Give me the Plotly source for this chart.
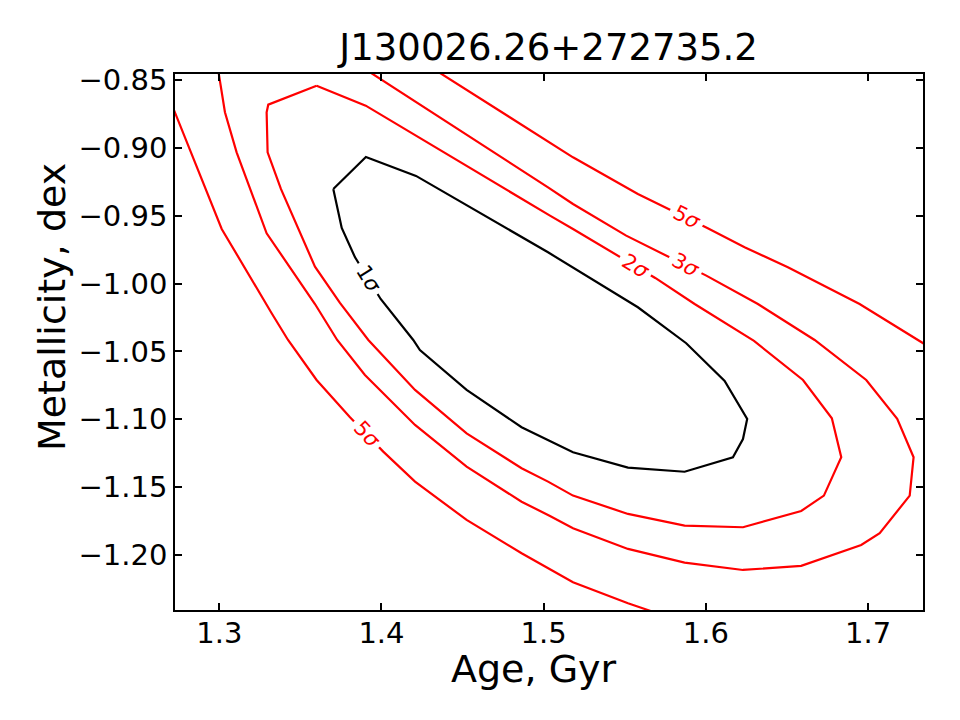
import plotly.graph_objects as go

# ---- contour lines (Age [Gyr], Metallicity [dex]) ----
sig1_age = [1.3703, 1.3904, 1.4213, 1.5027, 1.5581, 1.5879, 1.6116, 1.6255, 1.6229, 1.6167,
            1.5869, 1.5520, 1.5181, 1.4864, 1.4525, 1.4237, 1.4196, 1.3995, 1.3837, 1.3755, 1.3703]
sig1_met = [-0.9303, -0.9067, -0.9207, -0.9770, -1.0175, -1.0440, -1.0718, -1.0998, -1.1146, -1.1280,
            -1.1387, -1.1357, -1.1244, -1.1059, -1.0784, -1.0490, -1.0416, -1.0114, -0.9807, -0.9591, -0.9303]

sig2_age = [1.3600, 1.3903, 1.5039, 1.5181, 1.5688, 1.5931, 1.6297, 1.6599, 1.6777, 1.6835,
            1.6728, 1.6588, 1.6229, 1.5869, 1.5520, 1.5181, 1.5027, 1.4864, 1.4525, 1.4207,
            1.3919, 1.3744, 1.3590, 1.3380, 1.3298, 1.3292, 1.3302, 1.3600]
sig2_met = [-0.8542, -0.8689, -0.9500, -0.9598, -0.9959, -1.0151, -1.0423, -1.0711, -1.0993, -1.1280,
            -1.1563, -1.1676, -1.1796, -1.1784, -1.1698, -1.1563, -1.1460, -1.1361, -1.1104, -1.0784,
            -1.0416, -1.0143, -0.9876, -0.9303, -0.9033, -0.8738, -0.8682, -0.8542]

sig3_age = [1.2995, 1.3035, 1.3107, 1.3292, 1.3590, 1.3727, 1.3898, 1.4207, 1.4525, 1.4864,
            1.5039, 1.5181, 1.5520, 1.5869, 1.6229, 1.6588, 1.6958, 1.7072, 1.7257, 1.7281,
            1.7180, 1.6989, 1.6671, 1.6321, 1.6003, 1.5509, 1.5181, 1.5027, 1.3925]
sig3_met = [-0.8440, -0.8738, -0.9033, -0.9630, -1.0151, -1.0416, -1.0674, -1.1042, -1.1350, -1.1608,
            -1.1713, -1.1804, -1.1956, -1.2057, -1.2111, -1.2081, -1.1927, -1.1840, -1.1563, -1.1280,
            -1.0998, -1.0711, -1.0416, -1.0151, -0.9942, -0.9647, -0.9414, -0.9291, -0.8440]

sig5a_age = [1.2720, 1.3015, 1.3323, 1.3424, 1.3600, 1.3806, 1.4011, 1.4207, 1.4525, 1.4864,
             1.5039, 1.5181, 1.5520, 1.5660]
sig5a_met = [-0.8720, -0.9598, -1.0219, -1.0416, -1.0711, -1.0986, -1.1239, -1.1460, -1.1742, -1.1988,
             -1.2106, -1.2202, -1.2356, -1.2413]

sig5b_age = [1.4360, 1.5039, 1.5181, 1.5581, 1.6009, 1.6239, 1.6506, 1.6948, 1.7345]
sig5b_met = [-0.8448, -0.8959, -0.9070, -0.9340, -0.9591, -0.9733, -0.9880, -1.0151, -1.0444]

# inline contour labels
label_text = ["1<i>σ</i>", "5<i>σ</i>", "5<i>σ</i>", "3<i>σ</i>", "2<i>σ</i>"]
label_age = [1.3918, 1.3909, 1.5879, 1.5875, 1.5565]
label_met = [-0.9961, -1.1112, -0.9513, -0.9863, -0.9871]
label_angle = [58, 47, 27, 28, 31]
label_color = ["black", "red", "red", "red", "red"]

x_range = [1.2727, 1.7339]
y_range = [-1.2406, -0.8456]

title_text = "J130026.26+272735.2"
xlabel_text = "Age, Gyr"
ylabel_text = "Metallicity, dex"

FONT = "DejaVu Sans"

fig = go.Figure()
lines = [
    (sig1_age, sig1_met, "black"),
    (sig2_age, sig2_met, "red"),
    (sig3_age, sig3_met, "red"),
    (sig5a_age, sig5a_met, "red"),
    (sig5b_age, sig5b_met, "red"),
]
for xs, ys, col in lines:
    fig.add_trace(go.Scatter(x=xs, y=ys, mode="lines",
                             line=dict(color=col, width=2.2),
                             hoverinfo="skip", showlegend=False))

for t, xa, ya, ang, col in zip(label_text, label_age, label_met, label_angle, label_color):
    fig.add_annotation(x=xa, y=ya, xref="x", yref="y", text=t, showarrow=False,
                       textangle=ang, bgcolor="white", borderpad=4,
                       font=dict(family=FONT, size=21, color=col))

# axis labels (placed as in the reference)
fig.add_annotation(x=0.4806, y=-0.11, xref="paper", yref="paper", text=xlabel_text,
                   showarrow=False, xanchor="center", yanchor="middle",
                   font=dict(family=FONT, size=38, color="black"))
fig.add_annotation(x=-0.1645, y=0.565, xref="paper", yref="paper", text=ylabel_text,
                   showarrow=False, textangle=-90, xanchor="center", yanchor="middle",
                   font=dict(family=FONT, size=38, color="black"))

axis_common = dict(showline=True, linecolor="black", linewidth=1.6, mirror="ticks",
                   ticks="inside", ticklen=7, tickwidth=1.6, tickcolor="black",
                   showgrid=False, zeroline=False,
                   tickfont=dict(family=FONT, size=29, color="black"))

fig.update_layout(
    width=960, height=720,
    margin=dict(l=175, r=37, t=74, b=110),
    paper_bgcolor="white", plot_bgcolor="white",
    title=dict(text=title_text, x=0.5715, xanchor="center",
               y=0.934, yanchor="middle",
               font=dict(family=FONT, size=37, color="black")),
    xaxis=dict(range=x_range, dtick=0.1, tick0=1.3, tickformat=".1f",
               ticklabelstandoff=-4, **axis_common),
    yaxis=dict(range=y_range, dtick=0.05, tick0=-1.2, tickformat=".2f", **axis_common),
)

fig.write_html("out.html")
